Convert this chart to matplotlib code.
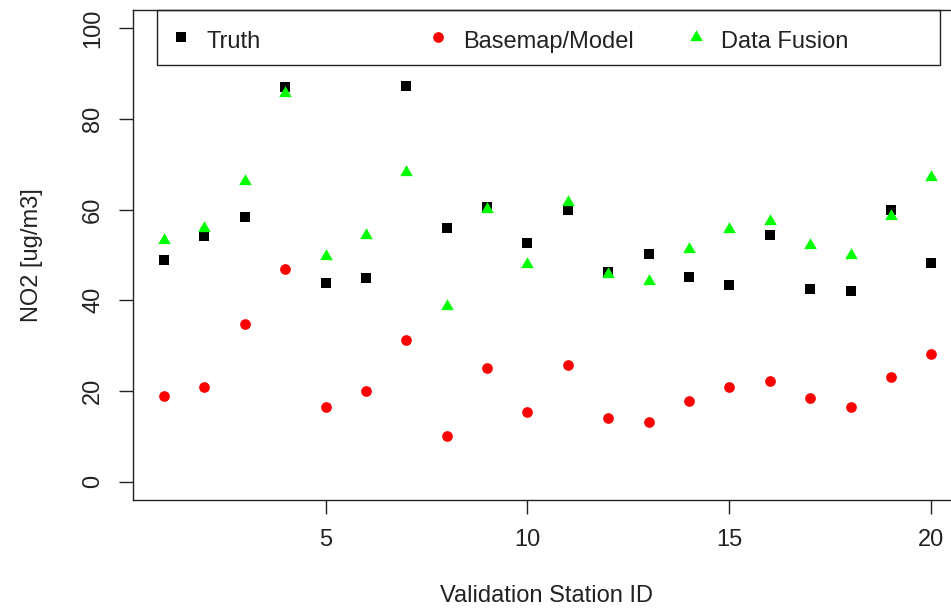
import matplotlib
matplotlib.use("Agg")
import matplotlib.pyplot as plt
from matplotlib.patches import Rectangle

plt.rcParams['font.family'] = ['Liberation Sans', 'DejaVu Sans']

station = list(range(1, 21))
truth = [48.9, 54.2, 58.4, 87.1, 43.9, 44.9, 87.2, 55.9, 60.6, 52.7,
         59.9, 46.3, 50.2, 45.1, 43.4, 54.5, 42.6, 42.0, 59.9, 48.3]
basemap = [19.0, 20.9, 34.8, 47.0, 16.5, 20.1, 31.3, 10.0, 25.1, 15.3,
           25.7, 14.1, 13.1, 17.9, 20.9, 22.2, 18.5, 16.5, 23.2, 28.2]
fusion = [53.3, 55.9, 66.4, 85.8, 49.8, 54.5, 68.2, 38.7, 60.2, 48.0,
          61.7, 45.8, 44.3, 51.4, 55.7, 57.4, 52.3, 50.0, 58.5, 67.3]
labels = ["Truth", "Basemap/Model", "Data Fusion"]

W, H = 951, 608
FS = 17
# equilateral triangle centred on its centroid, like R's pch 17
tri = [(0, 1), (-0.866, -0.5), (0.866, -0.5)]


def fx(x):
    return x / W


def fy(y):
    return 1 - y / H


fig = plt.figure(figsize=(W / 100, H / 100), dpi=100)
ax = fig.add_axes([fx(133.3), fy(500), fx(962 - 133.3), (500 - 10) / H])

ax.plot(station, truth, ls='none', marker='s', ms=7.9, color='black', mew=0)
ax.plot(station, basemap, ls='none', marker='o', ms=7.7, color='#ff0000', mew=0)
ax.plot(station, fusion, ls='none', marker=tri, ms=10.5, color='#00ff00', mew=0)

ax.set_xlim(0.24, 20.76)
ax.set_ylim(-4, 104)
ax.set_xticks([5, 10, 15, 20])
ax.set_yticks([0, 20, 40, 60, 80, 100])
ax.tick_params(axis='both', length=10, width=1.0, color='#222222',
               labelsize=FS, labelcolor='#222222')
ax.tick_params(axis='x', pad=11)
ax.tick_params(axis='y', pad=11)
for lab in ax.get_yticklabels():
    lab.set_rotation(90)
    lab.set_va('center')
for s in ax.spines.values():
    s.set_linewidth(1.0)
    s.set_color('#222222')

fig.text(fx(32), fy(255), "NO2 [ug/m3]", rotation=90, ha='center', va='center',
         fontsize=FS, color='#222222')
fig.text(fx(546), fy(596), "Validation Station ID", ha='center', va='center',
         fontsize=FS, color='#222222')

# legend box drawn by hand so the entries sit at even spacing
fig.patches.append(Rectangle((fx(156.7), fy(65)), fx(940 - 156.7), (65 - 10) / H,
                             transform=fig.transFigure, fill=False,
                             lw=1.0, ec='#222222'))
styles = [dict(marker='s', ms=7.9, color='black'),
          dict(marker='o', ms=7.7, color='#ff0000'),
          dict(marker=tri, ms=10.5, color='#00ff00')]
mark_x = [181, 438, 696]
text_x = [206.7, 463.5, 720.7]
for lab, st, mx, tx in zip(labels, styles, mark_x, text_x):
    fig.lines.append(plt.Line2D([fx(mx)], [fy(36.7)], transform=fig.transFigure,
                                ls='none', mew=0, **st))
    fig.text(fx(tx), fy(48.3), lab, ha='left', va='baseline', fontsize=FS,
             color='#222222')

fig.savefig("out.png", dpi=100)
